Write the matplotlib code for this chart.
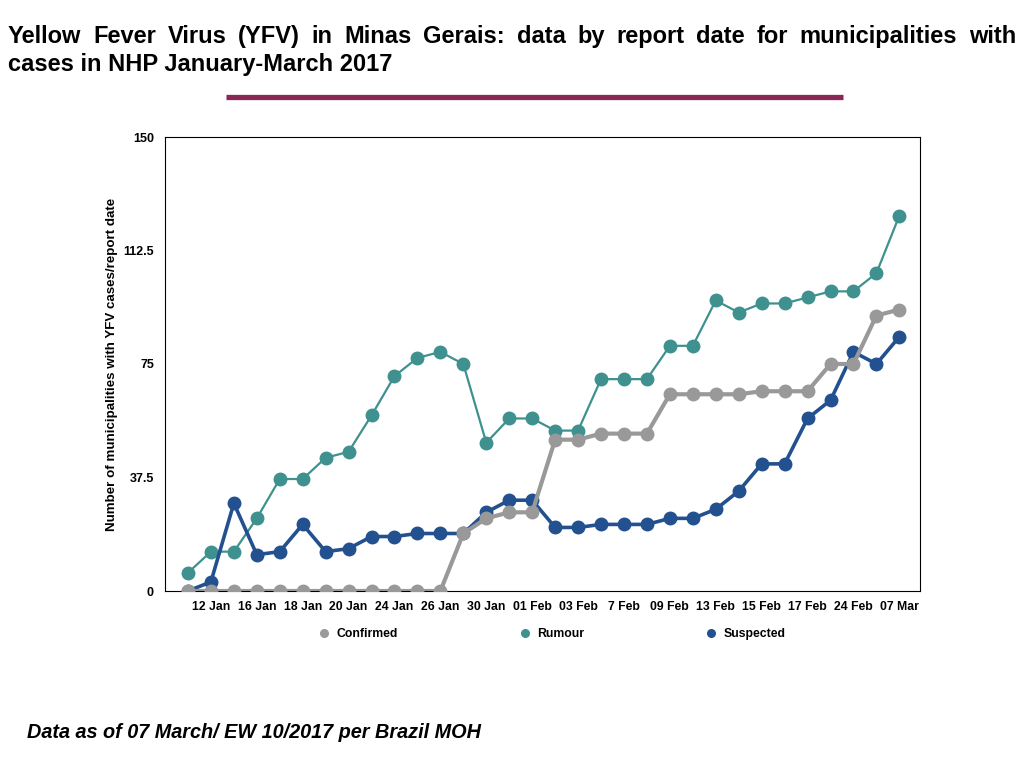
import matplotlib
matplotlib.use("Agg")
import matplotlib.pyplot as plt
from matplotlib.lines import Line2D

plt.rcParams['font.family'] = ['Liberation Sans', 'DejaVu Sans']

# Report dates (only every other one is labelled on the axis)
dates = ['10 Jan', '12 Jan', '13 Jan', '16 Jan', '17 Jan', '18 Jan', '19 Jan', '20 Jan',
         '23 Jan', '24 Jan', '25 Jan', '26 Jan', '27 Jan', '30 Jan', '31 Jan', '01 Feb',
         '02 Feb', '03 Feb', '06 Feb', '7 Feb', '08 Feb', '09 Feb', '10 Feb', '13 Feb',
         '14 Feb', '15 Feb', '16 Feb', '17 Feb', '21 Feb', '24 Feb', '06 Mar', '07 Mar']

confirmed = [0, 0, 0, 0, 0, 0, 0, 0, 0, 0, 0, 0, 19, 24, 26, 26,
             50, 50, 52, 52, 52, 65, 65, 65, 65, 66, 66, 66, 75, 75, 91, 93]
rumour = [6, 13, 13, 24, 37, 37, 44, 46, 58, 71, 77, 79, 75, 49, 57, 57,
          53, 53, 70, 70, 70, 81, 81, 96, 92, 95, 95, 97, 99, 99, 105, 124]
suspected = [0, 3, 29, 12, 13, 22, 13, 14, 18, 18, 19, 19, 19, 26, 30, 30,
             21, 21, 22, 22, 22, 24, 24, 27, 33, 42, 42, 57, 63, 79, 75, 84]

y_ticks = [0, 37.5, 75, 112.5, 150]

title_line1 = "Yellow Fever Virus (YFV) in Minas Gerais: data by report date for municipalities with"
title_line2 = "cases in NHP January-March 2017"
footnote = "Data as of 07 March/ EW 10/2017 per Brazil MOH"

c_conf = '#999999'
c_rum = '#3f918f'
c_sus = '#23508f'

W, H = 1024, 768
fig = plt.figure(figsize=(W / 100, H / 100), dpi=100)
fig.patch.set_facecolor('white')

ax = fig.add_axes([165 / W, 1 - 591 / H, (920 - 165) / W, (591 - 137) / H])
x = list(range(len(dates)))

ax.plot(x, rumour, '-o', color=c_rum, lw=1.6, ms=9, zorder=3)
ax.plot(x, suspected, '-o', color=c_sus, lw=2.6, ms=9, zorder=4)
ax.plot(x, confirmed, '-o', color=c_conf, lw=3.0, ms=9, zorder=5)

ax.set_xlim(-1, 31.9)
ax.set_ylim(0, 150)
ax.set_yticks(y_ticks)
ax.set_yticklabels(['0', '37.5', '75', '112.5', '150'], fontsize=9, fontweight='bold')
ax.set_xticks(x[1::2])
ax.set_xticklabels(dates[1::2], fontsize=8.8, fontweight='bold')
ax.tick_params(length=0, pad=7)
ax.tick_params(axis='y', pad=8)
for s in ax.spines.values():
    s.set_linewidth(0.8)
    s.set_color('black')
ax.set_ylabel("Number of municipalities with YFV cases/report date",
              fontsize=9.6, fontweight='bold', labelpad=4)

handles = [Line2D([], [], ls='none', marker='o', ms=5.5, color=c) for c in (c_conf, c_rum, c_sus)]
ax.legend(handles, ['Confirmed', 'Rumour', 'Suspected'], loc='upper center',
          bbox_to_anchor=(0.513, -0.057), ncol=3, frameon=False, handlelength=0.8,
          handletextpad=0.6, columnspacing=10.0, prop={'weight': 'bold', 'size': 8.8})

# title: first line justified across the page, second line left aligned
fig.canvas.draw()
rend = fig.canvas.get_renderer()
words = title_line1.split(' ')
tsize = 17
widths = []
for w in words:
    t = fig.text(0, 0, w, fontsize=tsize, fontweight='bold')
    widths.append(t.get_window_extent(rend).width)
    t.remove()
left, right = 8, 1016
gap = (right - left - sum(widths)) / (len(words) - 1)
xpos = left
for w, wd in zip(words, widths):
    fig.text(xpos / W, 1 - 43 / H, w, fontsize=tsize, fontweight='bold', va='baseline')
    xpos += wd + gap
fig.text(left / W, 1 - 71 / H, title_line2, fontsize=tsize, fontweight='bold', va='baseline')

fig.add_artist(Line2D([226 / W, 843 / W], [1 - 97 / H, 1 - 97 / H], color='#8b2756',
                      lw=3.8, solid_capstyle='butt', transform=fig.transFigure))

fig.text(27 / W, 1 - 733 / H, footnote, fontsize=14.3, fontweight='bold',
         fontstyle='italic', va='center')

fig.savefig('out.png', dpi=100)
